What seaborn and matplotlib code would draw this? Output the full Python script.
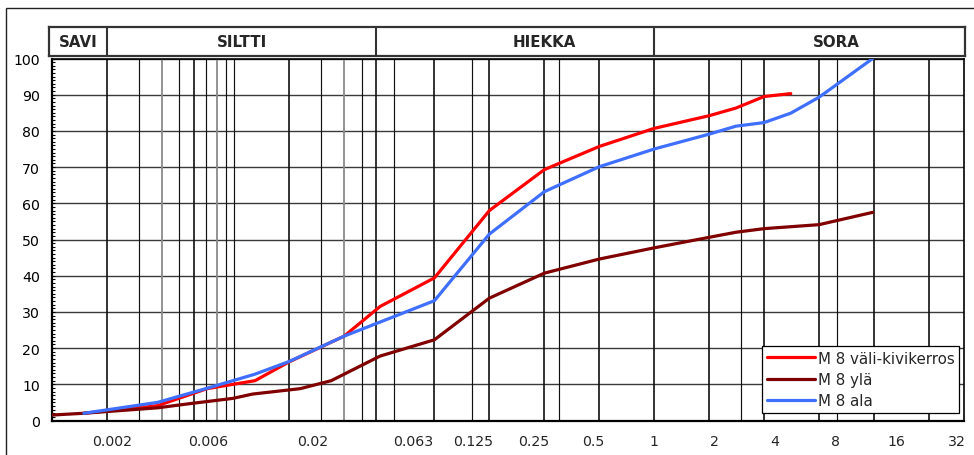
import pandas as pd
import matplotlib
matplotlib.use("Agg")
import matplotlib.pyplot as plt
import seaborn as sns
from matplotlib.patches import Rectangle
from matplotlib.ticker import MultipleLocator, NullLocator

# Grain size (mm) and percentage passing for each sample
vali_d = [0.0015, 0.0038, 0.0071, 0.013, 0.02, 0.04, 0.063, 0.125, 0.25, 0.5, 1, 2, 4, 5.6, 8, 11.2]
vali_p = [2.0, 4.1, 8.8, 11.0, 16.2, 23.3, 31.5, 39.4, 58.0, 69.3, 75.7, 80.7, 84.2, 86.3, 89.5, 90.3]

yla_d = [0.001, 0.0015, 0.0038, 0.0058, 0.0098, 0.0126, 0.023, 0.034, 0.063, 0.125, 0.25, 0.5, 1, 2, 4, 5.6, 8, 16, 31.5]
yla_p = [1.5, 2.0, 3.5, 4.7, 6.1, 7.3, 8.8, 11.0, 17.8, 22.3, 33.8, 40.7, 44.6, 47.7, 50.6, 52.0, 53.0, 54.1, 57.5]

ala_d = [0.0015, 0.0038, 0.0071, 0.013, 0.02, 0.04, 0.063, 0.125, 0.25, 0.5, 1, 2, 4, 5.6, 8, 11.2, 16, 31.5]
ala_p = [2.0, 5.0, 8.9, 12.8, 16.3, 23.3, 27.2, 33.1, 51.5, 63.2, 70.1, 75.0, 79.1, 81.3, 82.3, 84.9, 89.3, 100.0]

sample_names = ["M 8 väli-kivikerros", "M 8 ylä", "M 8 ala"]
sample_colors = ["#FF0000", "#800000", "#3F6FFF"]

# Soil class bands shown in the header strip
class_names = ["SAVI", "SILTTI", "HIEKKA", "SORA"]
class_bounds = [0.002, 0.06, 2]
class_label_x = [0.0014, 0.011, 0.5, 20]

# Size labels under the chart
tick_vals = [0.002, 0.006, 0.02, 0.063, 0.125, 0.25, 0.5, 1, 2, 4, 8, 16, 32]
tick_text = ["0.002", "0.006", "0.02", "0.063", "0.125", "0.25", "0.5", "1", "2", "4", "8", "16", "32"]

# Vertical grid lines (mm)
grid_major = [0.002, 0.006, 0.02, 0.06, 0.125, 0.25, 0.5, 1, 2, 4, 8, 16, 32, 64]
grid_thin = [0.003, 0.005, 0.007, 0.009, 0.01, 0.03, 0.05, 0.075, 0.2, 0.6, 6, 20]
grid_light = [0.004, 0.008, 0.04]

df = pd.concat([
    pd.DataFrame({"d": vali_d, "p": vali_p, "sample": sample_names[0]}),
    pd.DataFrame({"d": yla_d, "p": yla_p, "sample": sample_names[1]}),
    pd.DataFrame({"d": ala_d, "p": ala_p, "sample": sample_names[2]}),
], ignore_index=True)

sns.set_style("white")
plt.rcParams["font.family"] = ["DejaVu Sans"]

W_PX, H_PX = 974, 456
fig = plt.figure(figsize=(W_PX / 100, H_PX / 100), dpi=100)

left, right = 51.7 / W_PX, 964.3 / W_PX
bottom, top = 1 - 421.5 / H_PX, 1 - 59.5 / H_PX
ax = fig.add_axes([left, bottom, right - left, top - bottom])
ax.set_xscale("log")
ax.set_xlim(0.001, 100)
ax.set_ylim(0, 100)

for v in grid_major:
    ax.axvline(v, color="#111111", lw=1.2, zorder=1)
for v in grid_thin:
    ax.axvline(v, color="#111111", lw=0.85, zorder=1)
for v in grid_light:
    ax.axvline(v, color="#8a8a8a", lw=1.3, zorder=1)
ax.grid(axis="y", color="#3a3a3a", lw=1.0)
ax.set_axisbelow(True)

sns.lineplot(data=df, x="d", y="p", hue="sample", hue_order=sample_names,
             palette=sample_colors, linewidth=2.3, estimator=None, sort=False,
             ax=ax, zorder=3)

handles, labels = ax.get_legend_handles_labels()
leg = ax.legend(handles, labels, loc="upper right", bbox_to_anchor=(0.9942, 0.2058),
                borderaxespad=0, frameon=True, fancybox=False, framealpha=1,
                edgecolor="black", fontsize=10.8, handlelength=3.2, handletextpad=0.2,
                labelspacing=0.42, borderpad=0.3)
leg.get_frame().set_linewidth(0.9)
leg.set_zorder(5)

ax.set_xlabel("")
ax.set_ylabel("")
ax.xaxis.set_major_locator(NullLocator())
ax.xaxis.set_minor_locator(NullLocator())
ax.set_yticks(range(0, 101, 10))
ax.yaxis.set_minor_locator(MultipleLocator(1))
ax.tick_params(axis="y", which="both", direction="in", length=2.5, width=0.8,
               pad=8.5, labelsize=10.2, left=True, colors="black")
for side, lw in [("left", 1.6), ("bottom", 1.6), ("top", 1.2), ("right", 1.2)]:
    ax.spines[side].set_color("black")
    ax.spines[side].set_linewidth(lw)

# Size labels on their own log axis below the plot
ax2 = ax.twiny()
ax2.set_xscale("log")
ax2.set_xlim(0.001, 35)
ax2.set_xticks(tick_vals)
ax2.set_xticklabels(tick_text)
ax2.xaxis.set_minor_locator(NullLocator())
ax2.xaxis.tick_bottom()
ax2.tick_params(axis="x", length=0, pad=10, labelsize=10.2)
for s in ax2.spines.values():
    s.set_visible(False)

# Header strip with soil classes
h_bottom, h_top = 1 - 56.7 / H_PX, 1 - 28.3 / H_PX
hax = fig.add_axes([left - 2.4 / W_PX, h_bottom, right - left + 3.0 / W_PX, h_top - h_bottom])
hax.set_xscale("log")
hax.set_xlim(0.001 * 10 ** (-2.4 / 182.5), 100 * 10 ** (0.6 / 182.5))
hax.set_ylim(0, 1)
hax.xaxis.set_major_locator(NullLocator())
hax.xaxis.set_minor_locator(NullLocator())
hax.set_yticks([])
for b in class_bounds:
    hax.axvline(b, color="#333333", lw=1.5)
for name, xc in zip(class_names, class_label_x):
    hax.text(xc, 0.5, name, ha="center", va="center", fontsize=10.8, fontweight="bold")
for s in hax.spines.values():
    s.set_color("#333333")
    s.set_linewidth(1.6)

# Outer chart frame
fig.add_artist(Rectangle((6 / W_PX, -0.05), 1.1, 1 - 9 / H_PX + 0.05,
                         transform=fig.transFigure, fill=False, ec="#222222", lw=1.0))

fig.savefig("out.png", dpi=100)
